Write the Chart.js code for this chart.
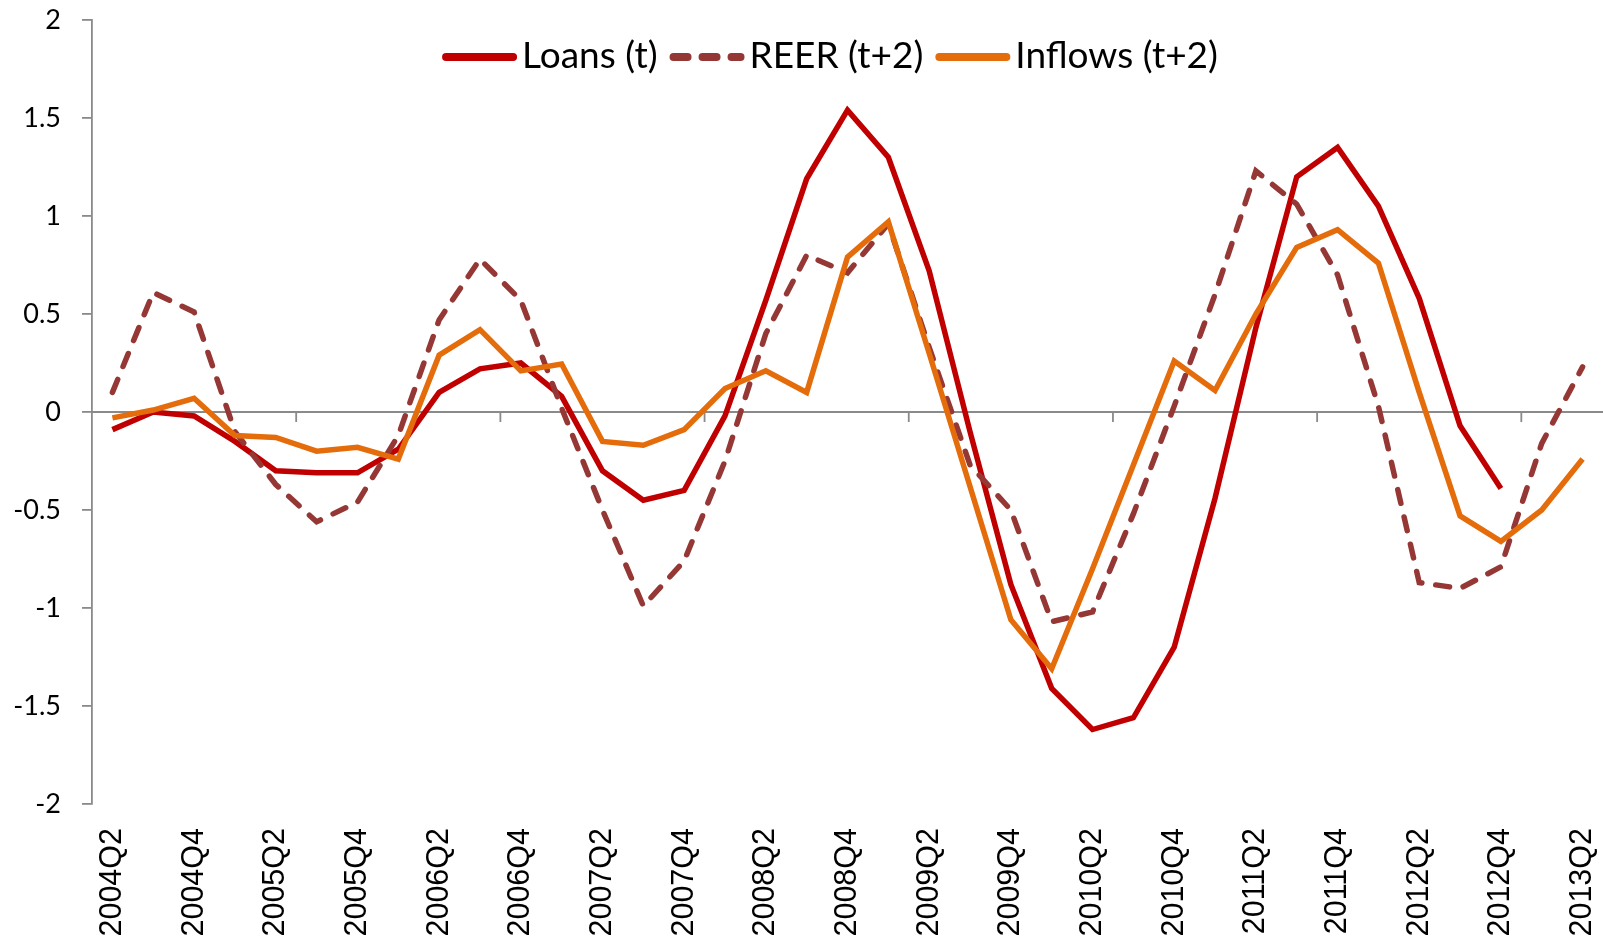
<!DOCTYPE html>
<html><head><meta charset="utf-8">
<script src="https://cdn.jsdelivr.net/npm/chart.js@4/dist/chart.umd.min.js"></script>
<style>html,body{margin:0;padding:0;background:#fff;}#wrap{width:1603px;height:941px;}</style>
</head><body><div id="wrap"><canvas id="c" width="1603" height="941"></canvas></div>
<script>
const categories = ['2004Q2','2004Q3','2004Q4','2005Q1','2005Q2','2005Q3','2005Q4','2006Q1','2006Q2','2006Q3','2006Q4','2007Q1','2007Q2','2007Q3','2007Q4','2008Q1','2008Q2','2008Q3','2008Q4','2009Q1','2009Q2','2009Q3','2009Q4','2010Q1','2010Q2','2010Q3','2010Q4','2011Q1','2011Q2','2011Q3','2011Q4','2012Q1','2012Q2','2012Q3','2012Q4','2013Q1','2013Q2'];
const loans = [-0.09, 0.00, -0.02, -0.15, -0.30, -0.31, -0.31, -0.19, 0.10, 0.22, 0.25, 0.08, -0.30, -0.45, -0.40, -0.02, 0.57, 1.19, 1.54, 1.30, 0.72, -0.10, -0.88, -1.41, -1.62, -1.56, -1.20, -0.44, 0.43, 1.20, 1.35, 1.05, 0.58, -0.07, -0.39, null, null];
const reer = [0.10, 0.61, 0.51, -0.10, -0.37, -0.56, -0.46, -0.12, 0.47, 0.78, 0.57, 0.02, -0.50, -0.99, -0.76, -0.25, 0.40, 0.80, 0.71, 0.96, 0.33, -0.27, -0.50, -1.07, -1.02, -0.52, 0.03, 0.60, 1.23, 1.06, 0.70, 0.03, -0.87, -0.90, -0.79, -0.16, 0.23];
const inflows = [-0.03, 0.01, 0.07, -0.12, -0.13, -0.20, -0.18, -0.24, 0.29, 0.42, 0.21, 0.245, -0.15, -0.17, -0.09, 0.12, 0.21, 0.10, 0.79, 0.97, 0.30, -0.38, -1.06, -1.31, -0.80, -0.27, 0.26, 0.11, 0.50, 0.84, 0.93, 0.76, 0.10, -0.53, -0.66, -0.50, -0.24];
const seriesNames = ['Loans (t)', 'REER (t+2)', 'Inflows (t+2)'];
const yMin = -2, yMax = 2, yStep = 0.5;
const labelEvery = 2, tickMarkEvery = 5;

const AXIS_COLOR = '#8a8a8a';

const zeroAxis = {
  id: 'zeroAxis',
  beforeDatasetsDraw(chart) {
    const {ctx, chartArea, scales: {x, y}} = chart;
    const y0 = y.getPixelForValue(0);
    ctx.save();
    ctx.strokeStyle = AXIS_COLOR;
    ctx.lineWidth = 1.8;
    ctx.beginPath();
    ctx.moveTo(chartArea.left, y0);
    ctx.lineTo(chartArea.right, y0);
    for (let i = tickMarkEvery; i < categories.length; i += tickMarkEvery) {
      const px = (x.getPixelForValue(i - 1) + x.getPixelForValue(i)) / 2;
      ctx.moveTo(px, y0);
      ctx.lineTo(px, y0 + 10);
    }
    ctx.stroke();
    ctx.restore();
  }
};

const topLegend = {
  id: 'topLegend',
  afterDraw(chart) {
    const ctx = chart.ctx;
    const sampleLen = 75, gapText = 5, gapItem = 12, centerX = 830, lineY = 57, textY = 68, lw = 8;
    ctx.save();
    ctx.font = '37px Lato';
    ctx.textBaseline = 'alphabetic';
    ctx.textAlign = 'left';
    const items = chart.data.datasets.map(ds => ({ds, w: ctx.measureText(ds.label).width}));
    const total = items.reduce((a, it) => a + sampleLen + gapText + it.w, 0) + gapItem * (items.length - 1);
    let x = centerX - total / 2;
    items.forEach(it => {
      ctx.beginPath();
      ctx.strokeStyle = it.ds.borderColor;
      ctx.lineWidth = lw;
      ctx.lineCap = 'round';
      ctx.setLineDash(it.ds.borderDash ? [14, 15] : []);
      ctx.moveTo(x + lw / 2, lineY);
      ctx.lineTo(x + sampleLen - lw / 2, lineY);
      ctx.stroke();
      ctx.setLineDash([]);
      x += sampleLen + gapText;
      ctx.fillStyle = '#000';
      ctx.fillText(it.ds.label, x, textY);
      x += it.w + gapItem;
    });
    ctx.restore();
  }
};

new Chart(document.getElementById('c'), {
  type: 'line',
  data: {
    labels: categories,
    datasets: [
      {label: seriesNames[0], data: loans, borderColor: '#C00000', borderWidth: 5.5, pointRadius: 0, order: 3, spanGaps: false},
      {label: seriesNames[1], data: reer, borderColor: '#953735', borderWidth: 5.5, pointRadius: 0, borderDash: [14, 14], borderCapStyle: 'round', order: 2},
      {label: seriesNames[2], data: inflows, borderColor: '#E46C0A', borderWidth: 5.5, pointRadius: 0, order: 1}
    ]
  },
  options: {
    responsive: false,
    animation: false,
    layout: {padding: {left: 0, right: 0, top: 20, bottom: 0}},
    plugins: {
      tooltip: {enabled: false},
      legend: {display: false}
    },
    scales: {
      x: {
        type: 'category',
        offset: true,
        grid: {display: false},
        border: {display: false},
        ticks: {
          autoSkip: false, maxRotation: 90, minRotation: 90, padding: 16,
          color: '#000',
          font: {family: 'Liberation Sans', size: 30.5},
          callback: (v, i) => (i % labelEvery === 0 ? categories[i] : '')
        },
        afterFit: s => { s.height = 137; s.paddingLeft = 0; s.paddingRight = 0; }
      },
      y: {
        min: yMin, max: yMax,
        ticks: {stepSize: yStep, color: '#000', padding: 21, font: {family: 'Lato', size: 27},
          callback: v => String(Math.round(v * 10) / 10)},
        grid: {drawOnChartArea: false, drawTicks: true, tickLength: 10, color: AXIS_COLOR, lineWidth: 1.8},
        border: {color: AXIS_COLOR, width: 1.8},
        afterFit: s => { s.width = 92; s.paddingTop = 0; s.paddingBottom = 0; }
      }
    }
  },
  plugins: [zeroAxis, topLegend]
});
</script></body></html>
